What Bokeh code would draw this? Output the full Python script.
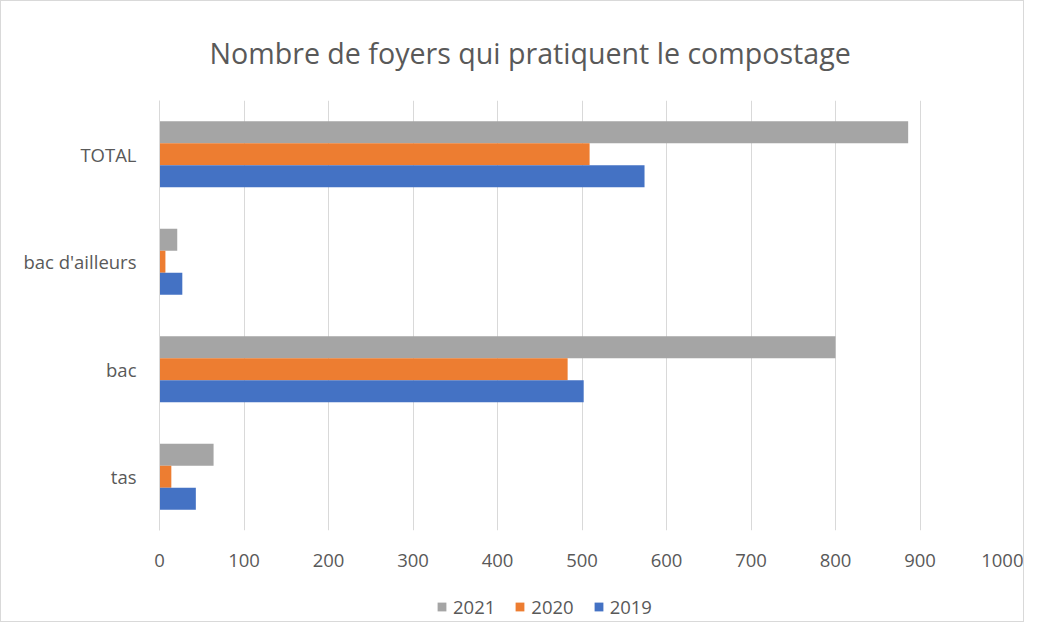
from bokeh.plotting import figure
from bokeh.layouts import column
from bokeh.models import ColumnDataSource, Legend, LegendItem, FactorRange, FixedTicker
from bokeh.transform import dodge
from bokeh.embed import file_html
from bokeh.resources import INLINE

categories = ["tas", "bac", "bac d'ailleurs", "TOTAL"]
v2019 = [43, 502, 27, 574]
v2020 = [14, 483, 7, 509]
v2021 = [64, 800, 21, 886]
years = ["2021", "2020", "2019"]
x_ticks = [0, 100, 200, 300, 400, 500, 600, 700, 800, 900, 1000]
title_text = "Nombre de foyers qui pratiquent le compostage"

FONT = "Open Sans"
TXT = "#595959"
GRID = "#d9d9d9"
colors = ["#A5A5A5", "#ED7D31", "#4472C4"]
LBL = "18.5px"

src = ColumnDataSource(dict(cat=categories, v2019=v2019, v2020=v2020, v2021=v2021))
cols = ["v2021", "v2020", "v2019"]

p = figure(y_range=FactorRange(*categories), x_range=(0, 1000),
           width=1022, height=580, output_backend="svg", toolbar_location=None,
           min_border_left=158, min_border_right=19, min_border_top=97, min_border_bottom=51,
           title=title_text)
p.outline_line_color = None

p.title.align = "left"
p.title.offset = 50
p.title.standoff = 58
p.title.text_font = FONT
p.title.text_font_size = "28.6px"
p.title.text_font_style = "normal"
p.title.text_color = TXT

bh = 0.204
offsets = [bh, 0, -bh]
for col, off, c in zip(cols, offsets, colors):
    p.hbar(y=dodge("cat", off, range=p.y_range), left=0, right=col, height=bh,
           source=src, fill_color=c, line_color=None)

p.xaxis.ticker = FixedTicker(ticks=x_ticks)
p.xaxis.axis_line_color = None
p.xaxis.major_tick_line_color = None
p.xaxis.minor_tick_line_color = None
p.xaxis.major_label_standoff = 17
p.xaxis.major_label_text_font = FONT
p.xaxis.major_label_text_font_size = LBL
p.xaxis.major_label_text_color = TXT

p.yaxis.axis_line_color = GRID
p.yaxis.major_tick_line_color = None
p.yaxis.minor_tick_line_color = None
p.yaxis.major_label_standoff = 17
p.yaxis.major_label_text_font = FONT
p.yaxis.major_label_text_font_size = LBL
p.yaxis.major_label_text_color = TXT

p.ygrid.grid_line_color = None
p.xgrid.grid_line_color = GRID
p.xgrid.ticker = FixedTicker(ticks=x_ticks)

# legend strip below the chart (swatches come from hidden copies of the same series)
lf = figure(width=1022, height=40, output_backend="svg", toolbar_location=None,
            y_range=FactorRange(*categories), x_range=(0, 1000),
            min_border_left=0, min_border_right=0, min_border_top=0, min_border_bottom=0)
lf.axis.visible = False
lf.grid.grid_line_color = None
lf.outline_line_color = None
items = []
for yr, col, c in zip(years, cols, colors):
    r = lf.hbar(y="cat", left=0, right=col, height=bh, source=src,
                fill_color=c, line_color=None, visible=False)
    items.append(LegendItem(label=yr, renderers=[r]))
legend = Legend(items=items, orientation="horizontal", location=(277, 2),
                glyph_width=11, glyph_height=11, label_standoff=6, spacing=19,
                padding=0, margin=0, border_line_color=None, background_fill_alpha=0,
                label_text_font=FONT, label_text_font_size=LBL, label_text_color=TXT)
lf.add_layout(legend)

layout = column(p, lf, spacing=0)
layout.styles = {"border": "1px solid #d9d9d9"}

open("out.html", "w").write(file_html(layout, INLINE))
